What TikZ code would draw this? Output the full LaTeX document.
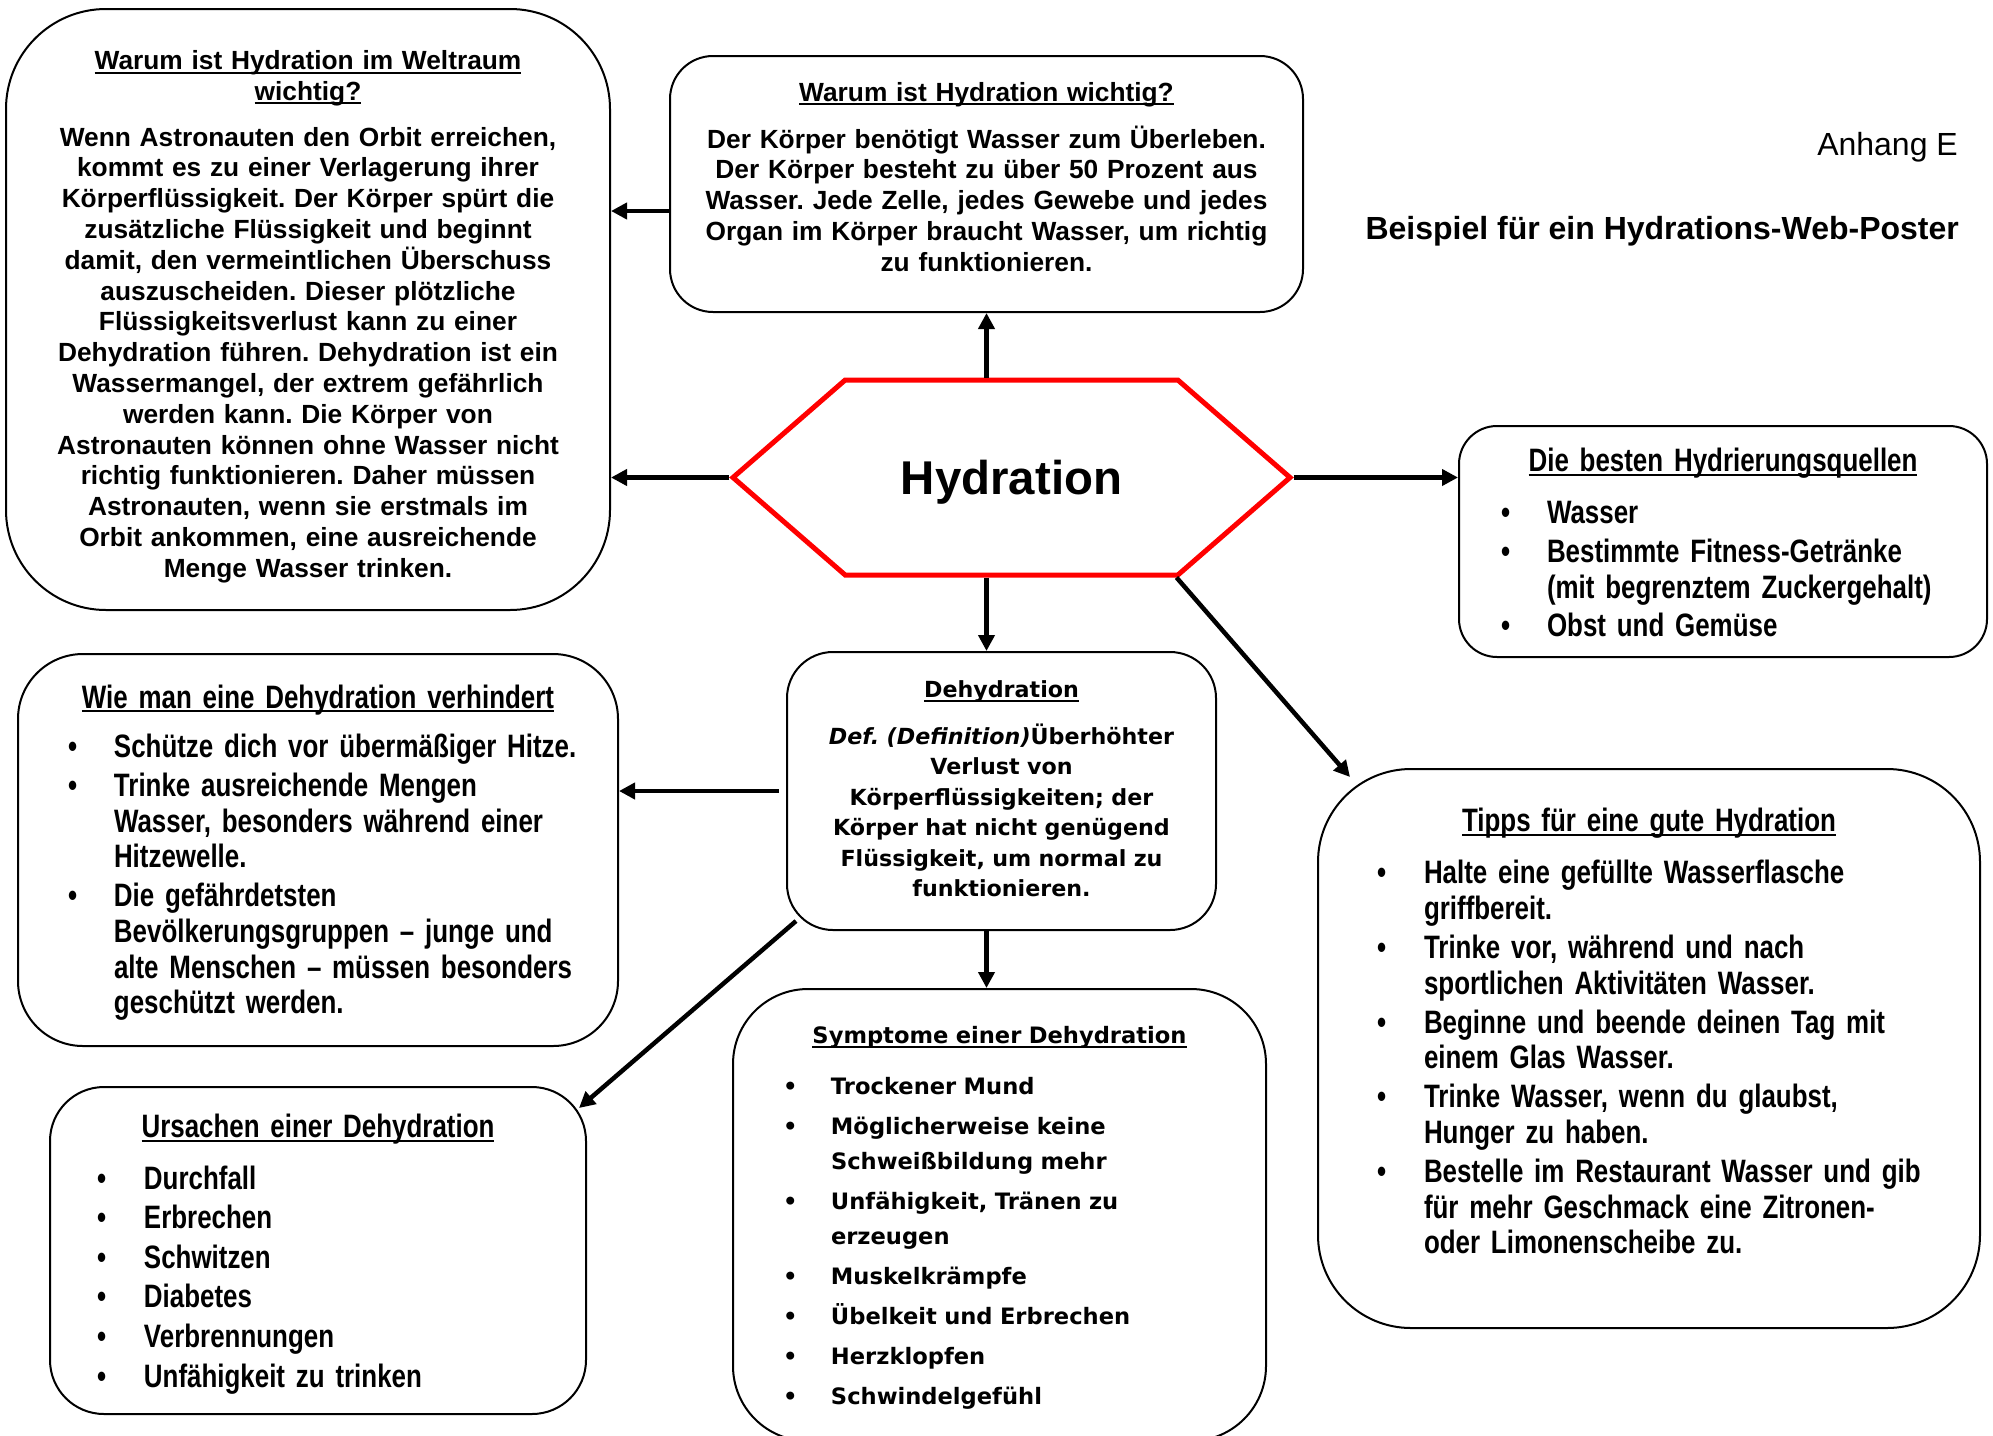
\documentclass[tikz,border=0pt]{standalone}
\usepackage{fontspec}
\setmainfont{Liberation Sans}
\newfontfamily\narrowfont[FakeStretch=0.80]{Liberation Sans}
\newfontfamily\verdfont{DejaVu Sans}
\usetikzlibrary{arrows.meta,shapes.symbols}
\setlength\parindent{0pt}
\frenchspacing

\newlength\bulind
\newlength\bulskip
\newlength\bulshift
\setlength\bulshift{-5pt}
\newcommand{\hd}[1]{\leavevmode\setbox0=\hbox{#1}\rlap{\rule[-4pt]{\wd0}{2pt}}\box0}
\newcommand{\ttl}[2]{{\centering\hd{#1}\par}\vspace{#2}}
\newcommand{\bul}[1]{\par\vspace{\bulskip}\hangindent=\bulind\hangafter=1\noindent\makebox[\bulind][l]{\hspace{\bulshift}\textbullet}#1\par}

\begin{document}
\begin{tikzpicture}[x=1pt, y=-1pt]
    \tikzset{box/.style = {draw=black, line width=2pt, inner sep=0pt, anchor=north, rounded corners=#1}}
    \tikzset{arrow/.style = {-{Triangle[length=16pt, width=16pt]}, line width=4.5pt}}
    \tikzset{plain/.style = {font=\bfseries\fontsize{26.3}{30.8}\selectfont, align=center}}
    \tikzset{narrow/.style = {font=\narrowfont\bfseries\fontsize{32.4}{35.6}\selectfont, align=left}}
    \tikzset{wide/.style = {font=\verdfont\bfseries\fontsize{22.2}{30.5}\selectfont}}
    \path[use as bounding box, fill=white] (0,0) rectangle (1993,1435);
    \clip (0,0) rectangle (1993,1435);

    % page heading
    \node[anchor=east, inner sep=0pt, font=\fontsize{32}{38}\selectfont] (anhang) at (1958,147.5) {Anhang E};
    \node[anchor=east, inner sep=0pt, font=\bfseries\fontsize{32}{38}\selectfont] (titel) at (1959,231.5) {Beispiel für ein Hydrations-Web-Poster};

    % centre
    \node[signal, signal to=west and east, signal pointer angle=82, draw=red, line width=5pt,
          minimum width=557, minimum height=195, text depth=0pt, font=\bfseries\fontsize{47.4}{50}\selectfont] (hyd) at (1011.5,477.5) {Hydration};

    % upper row
    \node[box=100pt, plain, minimum width=604, text height=60.5, text depth=540.5, text width=580] (welt) at (308,8)
      {\hd{Warum ist Hydration im Weltraum}\\ \hd{wichtig?}\\[15pt]
       Wenn Astronauten den Orbit erreichen,\\
       kommt es zu einer Verlagerung ihrer\\
       Körperflüssigkeit. Der Körper spürt die\\
       zusätzliche Flüssigkeit und beginnt\\
       damit, den vermeintlichen Überschuss\\
       auszuscheiden. Dieser plötzliche\\
       Flüssigkeitsverlust kann zu einer\\
       Dehydration führen. Dehydration ist ein\\
       Wassermangel, der extrem gefährlich\\
       werden kann. Die Körper von\\
       Astronauten können ohne Wasser nicht\\
       richtig funktionieren. Daher müssen\\
       Astronauten, wenn sie erstmals im\\
       Orbit ankommen, eine ausreichende\\
       Menge Wasser trinken.};
    \node[box=43pt, plain, minimum width=633, text height=45.3, text depth=210.7, text width=610] (wicht) at (986.5,55)
      {\hd{Warum ist Hydration wichtig?}\\[16pt]
       Der Körper benötigt Wasser zum Überleben.\\
       Der Körper besteht zu über 50 Prozent aus\\
       Wasser. Jede Zelle, jedes Gewebe und jedes\\
       Organ im Körper braucht Wasser, um richtig\\
       zu funktionieren.};
    \node[box=38pt, narrow, minimum width=528, text height=45.8, text depth=185.2, text width=488] (quel) at (1723,425)
      {\setlength\bulind{46pt}\setlength\bulskip{3pt}\setlength\bulshift{0pt}%
       \ttl{Die besten Hydrierungsquellen}{13.5pt}%
       \leftskip=22pt
       \bul{Wasser}
       \bul{Bestimmte Fitness-Getränke\newline (mit begrenztem Zuckergehalt)}
       \bul{Obst und Gemüse}};

    % middle row
    \node[box=46pt, wide, align=center, minimum width=429, text height=45.9, text depth=232.1, text width=410] (deh) at (1001.5,651)
      {\hd{Dehydration}\\[16pt]
       {\itshape Def. (Definition)}Überhöhter\\
       Verlust von\\
       Körperflüssigkeiten; der\\
       Körper hat nicht genügend\\
       Flüssigkeit, um normal zu\\
       funktionieren.};
    \node[box=65pt, narrow, minimum width=600, text height=54.3, text depth=337.7, text width=560] (verh) at (318,653)
      {\setlength\bulind{41pt}\setlength\bulskip{3.5pt}%
       \ttl{Wie man eine Dehydration verhindert}{10pt}%
       \leftskip=35pt
       \bul{Schütze dich vor übermäßiger Hitze.}
       \bul{Trinke ausreichende Mengen\newline Wasser, besonders während einer\newline Hitzewelle.}
       \bul{Die gefährdetsten\newline Bevölkerungsgruppen – junge und\newline alte Menschen – müssen besonders\newline geschützt werden.}};
    \node[box=93pt, narrow, minimum width=662, text height=62.6, text depth=496.4, text width=622] (tipp) at (1649,768)
      {\setlength\bulind{42pt}\setlength\bulskip{3.5pt}%
       \ttl{Tipps für eine gute Hydration}{13pt}%
       \leftskip=44pt
       \bul{Halte eine gefüllte Wasserflasche\newline griffbereit.}
       \bul{Trinke vor, während und nach\newline sportlichen Aktivitäten Wasser.}
       \bul{Beginne und beende deinen Tag mit\newline einem Glas Wasser.}
       \bul{Trinke Wasser, wenn du glaubst,\newline Hunger zu haben.}
       \bul{Bestelle im Restaurant Wasser und gib\newline für mehr Geschmack eine Zitronen-\newline oder Limonenscheibe zu.}};

    % lower row
    \node[box=54pt, narrow, minimum width=536, text height=50.9, text depth=276.1, text width=496] (urs) at (318,1086)
      {\setlength\bulind{42pt}\setlength\bulskip{4pt}%
       \ttl{Ursachen einer Dehydration}{11.5pt}%
       \leftskip=32pt
       \bul{Durchfall}
       \bul{Erbrechen}
       \bul{Schwitzen}
       \bul{Diabetes}
       \bul{Verbrennungen}
       \bul{Unfähigkeit zu trinken}};
    \node[box=75pt, wide, align=left, minimum width=533, text height=54.7, text depth=397.3, text width=493] (sym) at (999.5,988)
      {\fontsize{22.6}{35}\selectfont\setlength\bulind{40pt}\setlength\bulskip{5pt}\setlength\bulshift{-8pt}%
       \ttl{Symptome einer Dehydration}{11pt}%
       \leftskip=38pt
       \bul{Trockener Mund}
       \bul{Möglicherweise keine\newline Schweißbildung mehr}
       \bul{Unfähigkeit, Tränen zu\newline erzeugen}
       \bul{Muskelkrämpfe}
       \bul{Übelkeit und Erbrechen}
       \bul{Herzklopfen}
       \bul{Schwindelgefühl}};

    % connectors
    \draw[arrow] ([yshift=-27pt]wicht.west) -- ([yshift=-27pt]wicht.west -| welt.east);
    \draw[arrow] (hyd.west) -- (hyd.west -| welt.east);
    \draw[arrow] (hyd.east) -- (hyd.east -| quel.west);
    \draw[arrow] (wicht.south |- hyd.north) -- (wicht.south);
    \draw[arrow] (wicht.south |- hyd.south) -- (wicht.south |- deh.north);
    \draw[arrow] ([xshift=165pt]hyd.south) -- ([shift={(33,9)}]tipp.north west);
    \draw[arrow] ([xshift=-7pt]deh.west) -- (deh.west -| verh.east);
    \draw[arrow] ([shift={(10,-10)}]deh.south west) -- ([shift={(-8,22)}]urs.north east);
    \draw[arrow] (wicht.south |- deh.south) -- (wicht.south |- sym.north);
\end{tikzpicture}
\end{document}
